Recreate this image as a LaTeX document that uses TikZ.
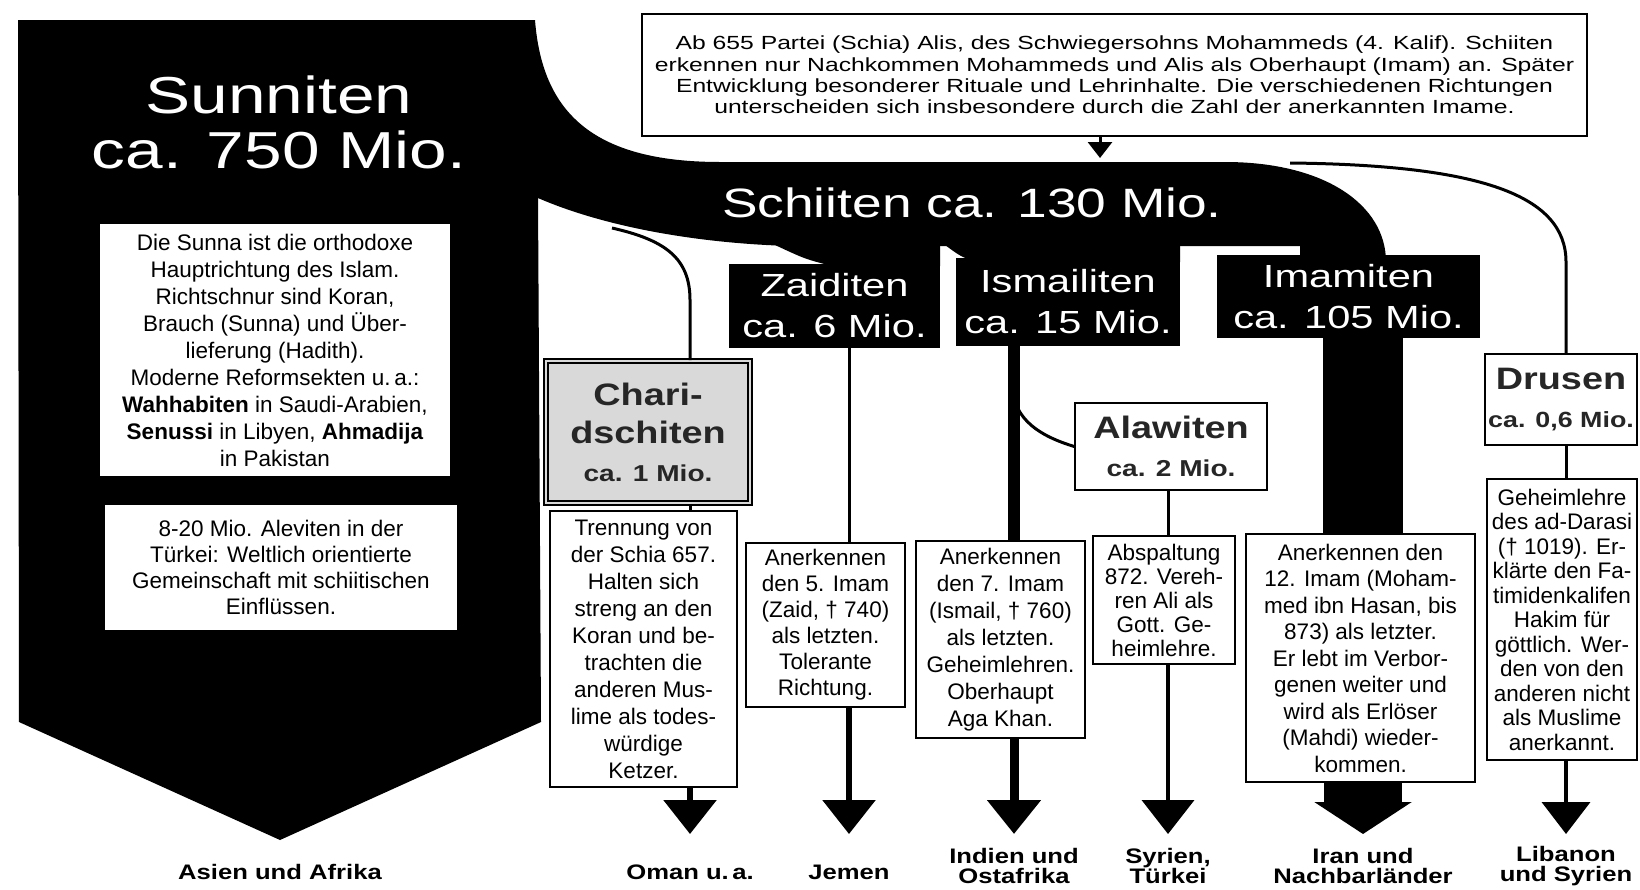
\documentclass[tikz,border=0pt]{standalone}
\usepackage{fontspec}
\setmainfont{Liberation Sans}
\newfontfamily\headfont{Liberation Sans}[FakeStretch=1.3]
\newfontfamily\widebold{Liberation Sans}[FakeStretch=1.22]
\usepackage{tikz}
\usetikzlibrary{arrows.meta, positioning, calc}
\definecolor{ink}{HTML}{000000}
\definecolor{stipple}{HTML}{D9D9D9}

\begin{document}
\begin{tikzpicture}[
    x=1pt, y=-1pt,
    textbox/.style={
        draw=ink, line width=1.6pt, fill=white,
        rectangle, inner sep=0pt, align=center,
        font=\fontsize{22.5}{26}\selectfont
    },
    sunbox/.style={
        fill=white, rectangle, inner sep=0pt, align=center,
        font=\fontsize{22.5}{27}\selectfont
    },
    blackhead/.style={
        fill=ink, text=white, rectangle, inner sep=0pt, align=center,
        font=\headfont\fontsize{32}{41}\selectfont
    },
    sect/.style={
        draw=ink, line width=1.6pt, fill=white,
        rectangle, inner sep=0pt, align=center, text=ink!85,
        font=\widebold\bfseries\fontsize{31}{38}\selectfont
    },
    charbox/.style={
        sect, fill=stipple, double=stipple, double distance=2.5pt
    },
    region/.style={
        align=center, inner sep=0pt,
        font=\widebold\bfseries\fontsize{21}{20}\selectfont
    },
    link/.style={line width=3pt, draw=ink},
    stem/.style={
        line width=6pt, draw=ink, fill=ink,
        -{Triangle[width=52pt,length=34pt]}
    },
]
\useasboundingbox (0,0) rectangle (1640,889);

\fill[ink] (18,20) -- (535,20) .. controls (542,110) and (590,162) .. (720,162)
    -- (1225,162) .. controls (1325,162) and (1386,205) .. (1386,262)
    -- (1300,262) -- (1300,246) -- (790,246)
    .. controls (690,243) and (600,225) .. (538,198)
    -- (541,722) -- (280,840) -- (19,722) -- cycle;
\fill[ink] (775,245) -- (940,245) -- (940,266) -- (832,266)
    .. controls (805,259) .. (775,245) -- cycle;
\fill[ink] (945,245) -- (1180,245) -- (1180,262) -- (975,262)
    .. controls (960,256) .. (945,245) -- cycle;

\node[font=\headfont\fontsize{52}{55}\selectfont, text=white, align=center]
    (sunni) at (279,122) {Sunniten\\ca. 750 Mio.};
\node[sunbox, minimum width=350pt, minimum height=252pt] (sunna) at (275,350)
    {Die Sunna ist die orthodoxe\\Hauptrichtung des Islam.\\Richtschnur sind Koran,\\
     Brauch (Sunna) und Über-\\lieferung (Hadith).\\Moderne Reformsekten u.\,a.:\\
     \textbf{Wahhabiten} in Saudi-Arabien,\\\textbf{Senussi} in Libyen, \textbf{Ahmadija}\\in Pakistan};
\node[sunbox, minimum width=352pt, minimum height=125pt,
    font=\fontsize{22.5}{26}\selectfont] (alevi) at (281,567.5)
    {8-20 Mio. Aleviten in der\\Türkei: Weltlich orientierte\\Gemeinschaft mit schiitischen\\Einflüssen.};

\node[textbox, minimum width=945pt, minimum height=122pt,
    font=\headfont\fontsize{19}{21.3}\selectfont] (schia) at (1114.5,75)
    {Ab 655 Partei (Schia) Alis, des Schwiegersohns Mohammeds (4. Kalif). Schiiten\\
     erkennen nur Nachkommen Mohammeds und Alis als Oberhaupt (Imam) an. Später\\
     Entwicklung besonderer Rituale und Lehrinhalte. Die verschiedenen Richtungen\\
     unterscheiden sich insbesondere durch die Zahl der anerkannten Imame.};
\node[font=\headfont\fontsize{41}{42}\selectfont, text=white] (schiiten) at (972,203)
    {Schiiten ca. 130 Mio.};

\node[blackhead, minimum width=211pt, minimum height=84pt] (zaid) at (834.5,306) {Zaiditen\\ca. 6 Mio.};
\node[blackhead, minimum width=224pt, minimum height=88pt] (ismail) at (1068,302) {Ismailiten\\ca. 15 Mio.};
\node[blackhead, minimum width=263pt, minimum height=83pt] (imam) at (1348.5,296.5) {Imamiten\\ca. 105 Mio.};

\node[charbox, minimum width=204pt, minimum height=142pt] (charid) at (648,432)
    {Chari-\\dschiten\\{\fontsize{23}{30}\selectfont ca. 1 Mio.}};
\node[sect, minimum width=192pt, minimum height=87pt] (alawi) at (1171,446.5)
    {Alawiten\\{\fontsize{23}{30}\selectfont ca. 2 Mio.}};
\node[sect, minimum width=152pt, minimum height=91pt] (druse) at (1561,399.5)
    {Drusen\\{\fontsize{22}{28}\selectfont ca. 0,6 Mio.}};

\node[textbox, minimum width=187pt, minimum height=276pt,
    font=\fontsize{22.5}{27}\selectfont] (chariddesc) at (643.5,649)
    {Trennung von\\der Schia 657.\\Halten sich\\streng an den\\Koran und be-\\trachten die\\
     anderen Mus-\\lime als todes-\\würdige\\Ketzer.};
\node[textbox, minimum width=159pt, minimum height=164pt] (zaiddesc) at (825.5,625)
    {Anerkennen\\den 5. Imam\\(Zaid, † 740)\\als letzten.\\Tolerante\\Richtung.};
\node[textbox, minimum width=169pt, minimum height=197pt,
    font=\fontsize{22.5}{27}\selectfont] (ismaildesc) at (1000.5,639.5)
    {Anerkennen\\den 7. Imam\\(Ismail, † 760)\\als letzten.\\Geheimlehren.\\Oberhaupt\\Aga Khan.};
\node[textbox, minimum width=142pt, minimum height=128pt,
    font=\fontsize{22.5}{24}\selectfont] (alawidesc) at (1164,600)
    {Abspaltung\\872. Vereh-\\ren Ali als\\Gott. Ge-\\heimlehre.};
\node[textbox, minimum width=229pt, minimum height=248pt,
    font=\fontsize{22.5}{26.5}\selectfont] (imamdesc) at (1360.5,658)
    {Anerkennen den\\12. Imam (Moham-\\med ibn Hasan, bis\\873) als letzter.\\Er lebt im Verbor-\\
     genen weiter und\\wird als Erlöser\\(Mahdi) wieder-\\kommen.};
\node[textbox, minimum width=150pt, minimum height=281pt,
    font=\fontsize{22.5}{24.5}\selectfont] (drusedesc) at (1562,619.5)
    {Geheimlehre\\des ad-Darasi\\(† 1019). Er-\\klärte den Fa-\\timidenkalifen\\Hakim für\\
     göttlich. Wer-\\den von den\\anderen nicht\\als Muslime\\anerkannt.};

\node[region] (asien) at (280,872) {Asien und Afrika};
\node[region] (oman) at (690,872) {Oman u.\,a.};
\node[region] (jemen) at (849,872) {Jemen};
\node[region] (indien) at (1014,866) {Indien und\\Ostafrika};
\node[region] (syrien) at (1168,866) {Syrien,\\Türkei};
\node[region] (iran) at (1363,866) {Iran und\\Nachbarländer};
\node[region] (libanon) at (1566,866) {Libanon\\und Syrien};

\coordinate (tipline) at (0,834);
\coordinate (schiahook) at (1100,158);
\coordinate (charidfork) at (612,228);
\coordinate (alabranch) at (1012,386);
\coordinate (drusefork) at (1290,163);

\draw[link, -{Triangle[width=24pt,length=16pt]}] (schia.south -| schiahook) -- (schiahook);

\draw[link] (charidfork) .. controls (665,240) and (690,258) .. (690,300) -- (charid.north -| oman.north);
\draw[link] (charid.south -| oman.north) -- (chariddesc.north -| oman.north);
\draw[stem] (chariddesc.south -| oman.north) -- (oman.north |- tipline);

\draw[link] (zaid.south -| jemen.north) -- (zaiddesc.north -| jemen.north);
\draw[stem] (zaiddesc.south -| jemen.north) -- (jemen.north |- tipline);

\draw[link, line width=12pt] (ismail.south -| indien.north) -- (ismaildesc.north -| indien.north);
\draw[link] (alabranch) .. controls (1014,420) and (1040,436) .. (alawi.west);
\draw[stem, line width=9pt] (ismaildesc.south -| indien.north) -- (indien.north |- tipline);

\draw[link] (alawi.south -| syrien.north) -- (alawidesc.north -| syrien.north);
\draw[stem, line width=4pt] (alawidesc.south -| syrien.north) -- (syrien.north |- tipline);

\draw[link, line width=80pt] (imam.south -| iran.north) -- (imamdesc.north -| iran.north);
\draw[stem, line width=78pt, -{Triangle[width=96pt,length=32pt]}]
    (imamdesc.south -| iran.north) -- (iran.north |- tipline);

\draw[link] (drusefork) .. controls (1480,165) and (1566,195) .. (1566,262) -- (druse.north -| libanon.north);
\draw[link] (druse.south -| libanon.north) -- (drusedesc.north -| libanon.north);
\draw[stem, line width=4pt, -{Triangle[width=48pt,length=32pt]}]
    (drusedesc.south -| libanon.north) -- (libanon.north |- tipline);
\end{tikzpicture}
\end{document}
